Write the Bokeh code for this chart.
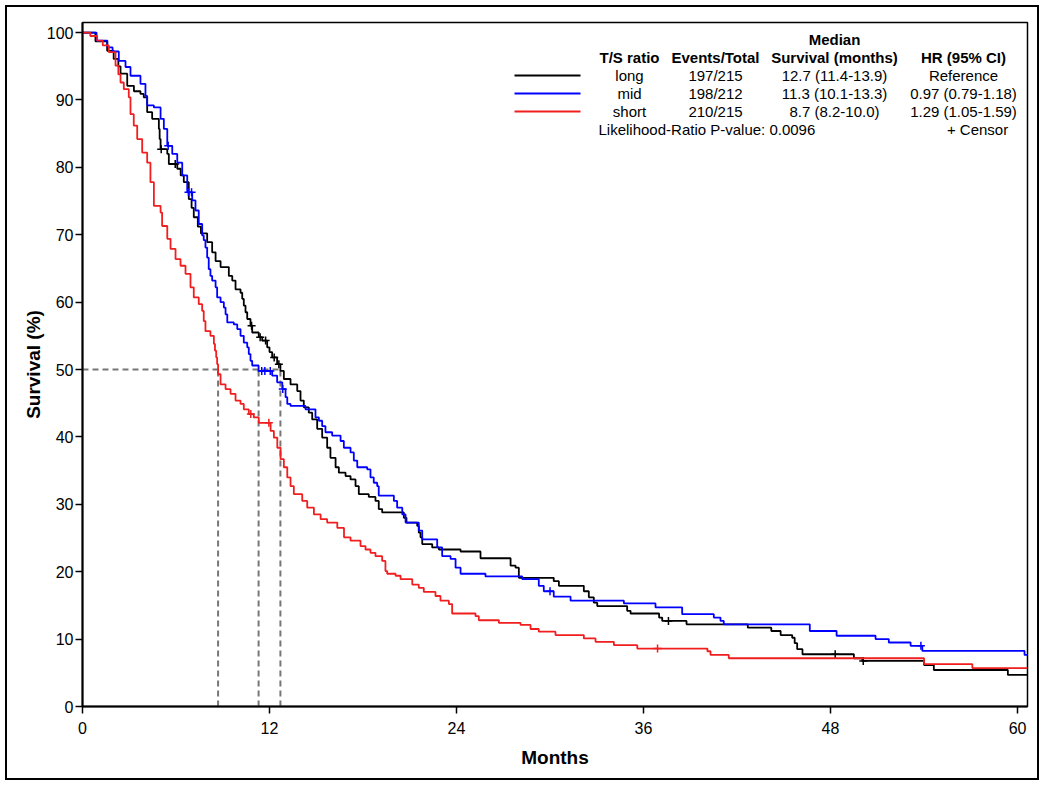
from bokeh.plotting import figure
from bokeh.models import Label, Range1d, FixedTicker
from bokeh.embed import file_html
from bokeh.resources import INLINE

# ---------------- data ----------------
groups = ["long", "mid", "short"]
events_total = ["197/215", "198/212", "210/215"]
median_txt = ["12.7 (11.4-13.9)", "11.3 (10.1-13.3)", "8.7 (8.2-10.0)"]
hr_txt = ["Reference", "0.97 (0.79-1.18)", "1.29 (1.05-1.59)"]
medians = [12.7, 11.3, 8.7]
colors = ["#000000", "#0000FF", "#F01E1E"]
pvalue_txt = "Likelihood-Ratio P-value: 0.0096"

long_t = [0, 0.83, 1.58, 2.0, 2.3, 2.44, 2.87, 3.3, 3.72, 3.93, 4.15, 4.47, 4.9, 4.95, 5.01,
          5.44, 5.54, 6.08, 6.3, 6.5, 6.82, 7.0, 7.14, 7.4, 7.6, 8.0, 8.32, 8.54, 8.86, 9.39,
          9.61, 9.82, 10.14, 10.25, 10.35, 10.46, 10.57, 10.78, 10.89, 11.31, 11.53, 11.85,
          12.0, 12.17, 12.49, 12.7, 12.92, 13.35, 13.78, 13.99, 14.2, 14.52, 14.74, 15.06,
          15.38, 15.7, 15.91, 16.24, 16.45, 16.88, 17.2, 17.52, 17.73, 18.37, 18.8, 19.01,
          19.23, 20.62, 20.79, 21.48, 21.58, 21.69, 21.8, 22.44, 22.87, 24.26, 25.54, 27.47,
          27.79, 28.0, 30.24, 30.57, 32.17, 32.49, 32.81, 33.03, 34.95, 35.17, 37.0, 37.2,
          38.76, 42.69, 44.2, 44.8, 45.54, 45.7, 45.86, 46.2, 49.5, 50.04, 54.0, 54.63, 59.38]
long_s = [100, 98.7, 97.3, 96.1, 95.0, 93.9, 92.1, 91.3, 90.9, 90.4, 88.2, 87.2, 85.7, 84.2, 82.7,
          82.0, 80.5, 79.8, 78.8, 77.8, 75.3, 74.0, 72.6, 71.2, 70.2, 68.9, 67.4, 66.1, 65.2, 63.9,
          63.2, 61.9, 61.4, 60.5, 59.5, 58.5, 57.5, 56.5, 55.5, 54.8, 54.3, 53.3,
          52.6, 51.8, 50.8, 49.8, 48.6, 47.8, 46.8, 45.4, 44.4, 43.6, 42.6, 41.2,
          39.9, 38.4, 36.9, 35.5, 34.7, 34.2, 33.7, 32.7, 31.5, 31.1, 30.5, 29.3,
          28.8, 28.0, 27.3, 26.8, 25.8, 25.1, 24.1, 23.6, 23.3, 23.0, 22.0, 20.9,
          20.6, 19.1, 18.6, 17.9, 17.1, 16.2, 15.4, 14.9, 14.2, 13.8, 13.2, 12.7,
          12.2, 11.7, 11.2, 10.6, 10.2, 9.4, 8.5, 7.75, 7.16, 6.76, 6.16, 5.42, 4.68]
long_cens = [5.05, 5.95, 10.85, 11.4, 11.75, 12.3, 12.6, 37.6, 48.3, 50.1]

mid_t = [0, 0.9, 1.6, 1.93, 2.33, 2.76, 3.08, 3.72, 4.04, 4.15, 4.58, 5.01, 5.22, 5.44, 5.76,
         6.08, 6.4, 6.72, 7.04, 7.25, 7.46, 7.68, 7.78, 7.89, 8.0, 8.1, 8.21, 8.32, 8.54, 8.64,
         8.86, 9.07, 9.18, 9.29, 9.71, 9.93, 10.14, 10.35, 10.57, 10.67, 10.78, 10.89, 11.3,
         12.17, 12.49, 12.82, 13.03, 13.14, 13.35, 14.31, 14.95, 15.17, 15.38, 15.59, 16.02,
         16.56, 16.77, 17.2, 17.41, 17.63, 18.27, 18.48, 18.69, 18.91, 19.01, 19.98, 20.19,
         20.52, 20.73, 21.58, 21.8, 22.76, 23.08, 23.62, 23.94, 24.26, 25.86, 28.22, 29.28,
         29.6, 30.24, 31.32, 34.74, 36.77, 38.48, 40.51, 40.94, 41.15, 46.67, 48.39, 50.89,
         51.74, 53.14, 53.89, 60.45]
mid_s = [100, 98.8, 97.8, 97.2, 95.8, 94.9, 93.6, 92.4, 90.6, 89.2, 88.9, 87.2, 85.7, 83.2, 82.0,
         80.7, 78.8, 76.3, 75.1, 73.6, 71.6, 69.9, 69.2, 68.1, 66.6, 64.9, 63.9, 63.2, 62.2, 60.7,
         60.0, 59.2, 58.2, 57.0, 56.7, 56.0, 55.0, 54.0, 53.3, 52.3, 51.3, 50.6, 49.8,
         49.1, 48.1, 47.1, 45.9, 44.9, 44.6, 44.1, 42.9, 42.4, 41.6, 40.7, 40.2,
         39.4, 38.4, 37.7, 36.5, 35.5, 35.2, 34.0, 33.2, 32.7, 31.3, 30.5, 29.5,
         28.5, 27.3, 26.1, 24.8, 23.6, 22.3, 21.9, 20.6, 19.7, 19.3, 18.9, 17.9,
         17.1, 16.3, 15.7, 15.3, 14.7, 13.7, 13.2, 12.7, 12.2, 11.2, 10.5, 10.0,
         9.5, 9.0, 8.24, 7.65]
mid_cens = [5.5, 6.8, 7.0, 11.5, 11.7, 12.05, 12.85, 30.0, 53.8]

short_t = [0, 0.5, 0.94, 1.3, 1.69, 2.12, 2.3, 2.44, 2.65, 2.97, 3.08, 3.29, 3.51, 3.83, 4.15,
           4.36, 4.58, 5.01, 5.11, 5.44, 5.65, 5.97, 6.29, 6.61, 6.93, 7.14, 7.46, 7.68, 7.78,
           7.89, 8.21, 8.43, 8.5, 8.58, 8.64, 8.7, 8.86, 9.18, 9.5, 9.82, 10.14, 10.35, 10.67,
           10.99, 11.31, 12.07, 12.28, 12.5, 12.71, 12.92, 13.14, 13.35, 13.56, 14.1, 14.42,
           14.85, 15.28, 15.7, 16.35, 16.78, 17.2, 17.84, 18.16, 18.48, 18.8, 19.23, 19.44,
           19.55, 20.09, 20.41, 21.16, 21.58, 21.9, 22.65, 22.97, 23.51, 23.72, 25.22, 25.43,
           26.72, 28.11, 28.75, 29.28, 30.35, 32.17, 32.92, 34.1, 35.6, 40.1, 40.3, 41.47,
           54.0, 57.1]
short_s = [100, 99.5, 98.8, 98.1, 97.1, 95.1, 93.8, 92.6, 91.6, 90.4, 87.9, 86.2, 84.2, 82.2, 80.7,
           77.8, 74.3, 73.3, 71.3, 69.4, 67.9, 66.4, 65.4, 64.2, 62.2, 60.7, 59.7, 58.7, 57.2,
           55.7, 55.0, 53.8, 52.8, 51.8, 50.8, 49.3, 47.8, 47.1, 46.4, 45.4, 44.9, 44.1, 43.4,
           42.9, 42.1, 40.9, 39.9, 38.4, 36.7, 35.5, 34.0, 32.7, 31.5, 30.5, 29.5,
           28.5, 27.8, 27.3, 26.5, 25.1, 24.6, 23.8, 23.3, 22.8, 22.3, 21.6, 20.1,
           19.7, 19.4, 18.9, 18.1, 17.6, 17.0, 16.4, 15.7, 15.2, 13.8, 13.4, 12.8,
           12.4, 12.1, 11.5, 11.1, 10.6, 10.1, 9.6, 9.1, 8.6, 8.2, 7.65, 7.16,
           6.3, 5.7]
short_cens = [10.8, 11.96, 36.9]

x_ticks = [0, 12, 24, 36, 48, 60]
y_ticks = [0, 10, 20, 30, 40, 50, 60, 70, 80, 90, 100]
XMAX = 60.64
YMAX = 101.5

FONT = "Liberation Sans"

# ---------------- figure ----------------
W, H = 1034, 775
ML, MT, MR, MB = 75, 15, 14, 76
p = figure(width=W, height=H, output_backend="svg", toolbar_location=None,
           x_range=Range1d(0, XMAX), y_range=Range1d(0, YMAX),
           min_border_left=ML, min_border_top=MT, min_border_right=MR, min_border_bottom=MB,
           styles={"border": "2px solid black", "margin": "5px 0 0 5px"})
p.xgrid.visible = False
p.ygrid.visible = False
p.outline_line_color = "black"
p.outline_line_width = 1.5
p.background_fill_color = "white"
p.border_fill_color = "white"

for ax, ticks in ((p.xaxis[0], x_ticks), (p.yaxis[0], y_ticks)):
    ax.ticker = FixedTicker(ticks=ticks)
    ax.axis_line_width = 2
    ax.axis_line_color = "black"
    ax.major_tick_line_width = 1.5
    ax.major_tick_out = 7
    ax.major_tick_in = 0
    ax.minor_tick_line_color = None
    ax.major_label_text_font = FONT
    ax.major_label_text_font_size = "16px"
    ax.major_label_text_color = "black"
    ax.axis_label_text_font = FONT
    ax.axis_label_text_font_size = "19px"
    ax.axis_label_text_font_style = "bold"
    ax.axis_label_text_color = "black"

p.xaxis.axis_label = "Months"
p.yaxis.axis_label = "Survival (%)"
p.xaxis.major_label_standoff = 8
p.yaxis.major_label_standoff = 2
p.xaxis.axis_label_standoff = 10
p.yaxis.axis_label_standoff = 0

# median reference lines
p.segment(x0=[0], y0=[50], x1=[max(medians)], y1=[50], line_color="#777777",
          line_width=2, line_dash="6 4")
p.segment(x0=medians, y0=[0] * 3, x1=medians, y1=[50] * 3, line_color="#777777",
          line_width=2, line_dash="6 4")


def surv_at(ts, ss, t):
    v = ss[0]
    for ti, si in zip(ts, ss):
        if ti <= t:
            v = si
    return v


series = [(long_t, long_s, long_cens), (mid_t, mid_s, mid_cens), (short_t, short_s, short_cens)]
for (ts, ss, cs), col in zip(series, colors):
    p.step(x=ts + [XMAX], y=ss + [ss[-1]], mode="after", line_color=col, line_width=1.8)
    p.scatter(x=cs, y=[surv_at(ts, ss, c) for c in cs], marker="cross", size=8,
              line_color=col, line_width=1.5)

# ---------------- legend table (screen coords relative to frame) ----------------
FL, FB = 82, 706  # pixel of frame left / bottom in the reference
fw = 1027 - 82
fh = 706 - 22


def lab(text, px, py, align="center", bold=False):
    p.add_layout(Label(x=px - FL, y=FB - py, x_units="screen", y_units="screen",
                       text=text, text_align=align, text_baseline="middle",
                       text_font=FONT, text_font_size="15px",
                       text_font_style="bold" if bold else "normal", text_color="black"))


col_x = [629, 715, 834, 963]
lab("Median", col_x[2], 39, bold=True)
for txt, cx in zip(["T/S ratio", "Events/Total", "Survival (months)", "HR (95% CI)"], col_x):
    lab(txt, cx, 57, bold=True)
row_y = [75, 93, 111]
for i in range(3):
    for txt, cx in zip([groups[i], events_total[i], median_txt[i], hr_txt[i]], col_x):
        lab(txt, cx, row_y[i])
    y = (FB - row_y[i]) / fh * YMAX
    p.segment(x0=[(514 - FL) / fw * XMAX], x1=[(580 - FL) / fw * XMAX], y0=[y], y1=[y],
              line_color=colors[i], line_width=1.8)
lab(pvalue_txt, 598, 129, align="left")
lab("+   Censor", 1016, 129, align="right")

open("out.html", "w").write(file_html(p, INLINE))
